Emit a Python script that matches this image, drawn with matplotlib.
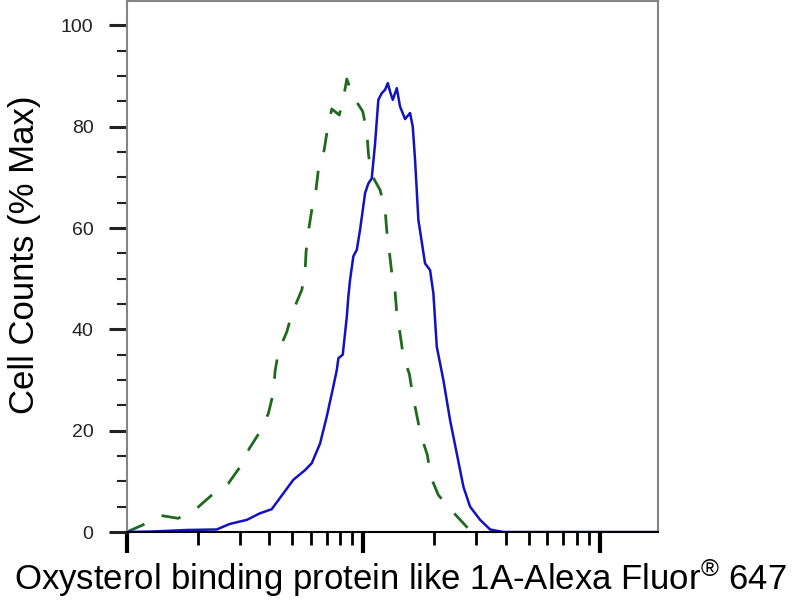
import matplotlib
matplotlib.use("Agg")
import matplotlib.pyplot as plt
from matplotlib.ticker import FixedLocator, NullFormatter, LogLocator

plt.rcParams["font.family"] = ["Liberation Sans", "DejaVu Sans"]
plt.rcParams["lines.scale_dashes"] = False
plt.rcParams["mathtext.fontset"] = "custom"
plt.rcParams["mathtext.rm"] = "Liberation Sans"
plt.rcParams["mathtext.it"] = "Liberation Sans:italic"

# Isotype control (green, dashed)
iso_x = [10, 11.7, 13.8, 16.5, 19.8, 22.9, 26.9, 30.1, 33.0, 36.6, 39.7, 41.7,
         42.4, 43.8, 47.5, 50.1, 55.0, 56.7, 57.3, 58.6, 60.6, 63.0, 64.6,
         68.3, 70.5, 73.6, 79.2, 83.0, 85.2, 90.8, 99.5, 103.5, 105.1, 107.6,
         117.8, 123.7, 125.8, 128.9, 132.0, 136.3, 138.6, 143.0, 147.7, 156.6,
         161.9, 168.3, 175.0, 186.6, 192.9, 207.7, 238.9, 274.0, 290.0]
iso_y = [0, 1.4, 3.3, 2.7, 4.7, 7.3, 9.6, 12.8, 16.5, 19.8, 23.4, 27.5,
         31.8, 35.6, 39.5, 43.3, 47.8, 51.1, 55.3, 59.3, 63.6, 67.2, 71.5,
         75.3, 79.4, 83.5, 82.3, 86.4, 89.4, 85.9, 83.0, 79.0, 74.8, 70.8,
         67.5, 63.6, 59.3, 55.3, 51.1, 47.4, 43.2, 39.2, 34.7, 31.2,
         27.0, 23.1, 19.2, 15.2, 10.9, 7.3, 4.0, 1.0, 0]

# Oxysterol binding protein like 1A stained sample (blue, solid)
osbp_x = [10, 12.9, 17.9, 24.0, 27.3, 32.2, 36.6, 41.0, 45.9, 50.6, 56.7, 60.6,
          65.7, 70.1, 74.7, 77.3, 78.5, 81.9, 85.2, 86.5, 87.9, 90.8, 93.9,
          96.9, 101.8, 105.1, 108.6, 112.2, 115.8, 119.7, 123.7, 127.0, 129.8,
          133.3, 138.6, 143.0, 150.2, 157.7, 161.9, 165.6, 171.0, 182.5, 191.6,
          197.9, 204.5, 218.1, 232.8, 248.5, 265.2, 282.9, 311.9, 343.8, 391.2,
          1758]
osbp_y = [0, 0.1, 0.4, 0.5, 1.6, 2.4, 3.7, 4.5, 7.6, 10.3, 12.2, 13.6,
          17.5, 22.8, 28.7, 32.0, 34.3, 35.0, 42.5, 46.5, 49.7, 54.4, 55.7,
          59.6, 66.9, 68.8, 69.8, 76.7, 85.3, 86.6, 87.3, 88.6, 86.9,
          85.3, 87.6, 84.0, 81.5, 82.7, 80.0, 73.4, 61.6, 53.0, 51.7,
          47.1, 36.6, 30.0, 22.1, 15.5, 8.9, 5.0, 2.4, 0.5, 0,
          0]

y_major = [0, 20, 40, 60, 80, 100]
y_labels = ["0", "20", "40", "60", "80", "100"]

fig = plt.figure(figsize=(8, 6), dpi=100)
ax = fig.add_axes([0.1584, 0.1133, 0.6638, 0.885])

ax.plot(iso_x, iso_y, color="#1e6b1e", linewidth=2.0, dashes=(14, 14))
ax.plot(osbp_x, osbp_y, color="#1212c0", linewidth=1.8)

ax.set_xscale("log")
ax.set_xlim(10, 1758)
ax.set_ylim(0, 104.8)

ax.xaxis.set_major_locator(FixedLocator([10, 100, 1000]))
ax.xaxis.set_minor_locator(LogLocator(base=10, subs=range(2, 10)))
ax.xaxis.set_major_formatter(NullFormatter())
ax.xaxis.set_minor_formatter(NullFormatter())

ax.set_yticks(y_major)
ax.set_yticklabels(y_labels, fontsize=14, color="#222222")
ax.yaxis.set_minor_locator(FixedLocator(range(5, 105, 5)))

ax.tick_params(axis="y", which="major", direction="out", length=13, width=2.2,
               color="#222222", pad=11)
ax.tick_params(axis="y", which="minor", direction="out", length=7, width=1.5,
               color="#222222")
ax.tick_params(axis="x", which="major", direction="out", length=15, width=3,
               color="black")
ax.tick_params(axis="x", which="minor", direction="out", length=9, width=2,
               color="black")

for side in ["left", "top", "right"]:
    ax.spines[side].set_color("#858585")
    ax.spines[side].set_linewidth(1.5)
ax.spines["bottom"].set_color("black")
ax.spines["bottom"].set_linewidth(1.5)

ax.set_ylabel("Cell Counts (% Max)", fontsize=25)
ax.yaxis.set_label_coords(-0.162, 0.522)

# the registered sign sits small and raised, as in the source figure
ax.set_xlabel("Oxysterol binding protein like 1A-Alexa Fluor$^{\\mathrm{\u00ae}}$ 647",
              fontsize=25)
ax.xaxis.label.set_va("baseline")
ax.xaxis.set_label_coords(0.515, -0.109)

fig.savefig("out.png", dpi=100)
